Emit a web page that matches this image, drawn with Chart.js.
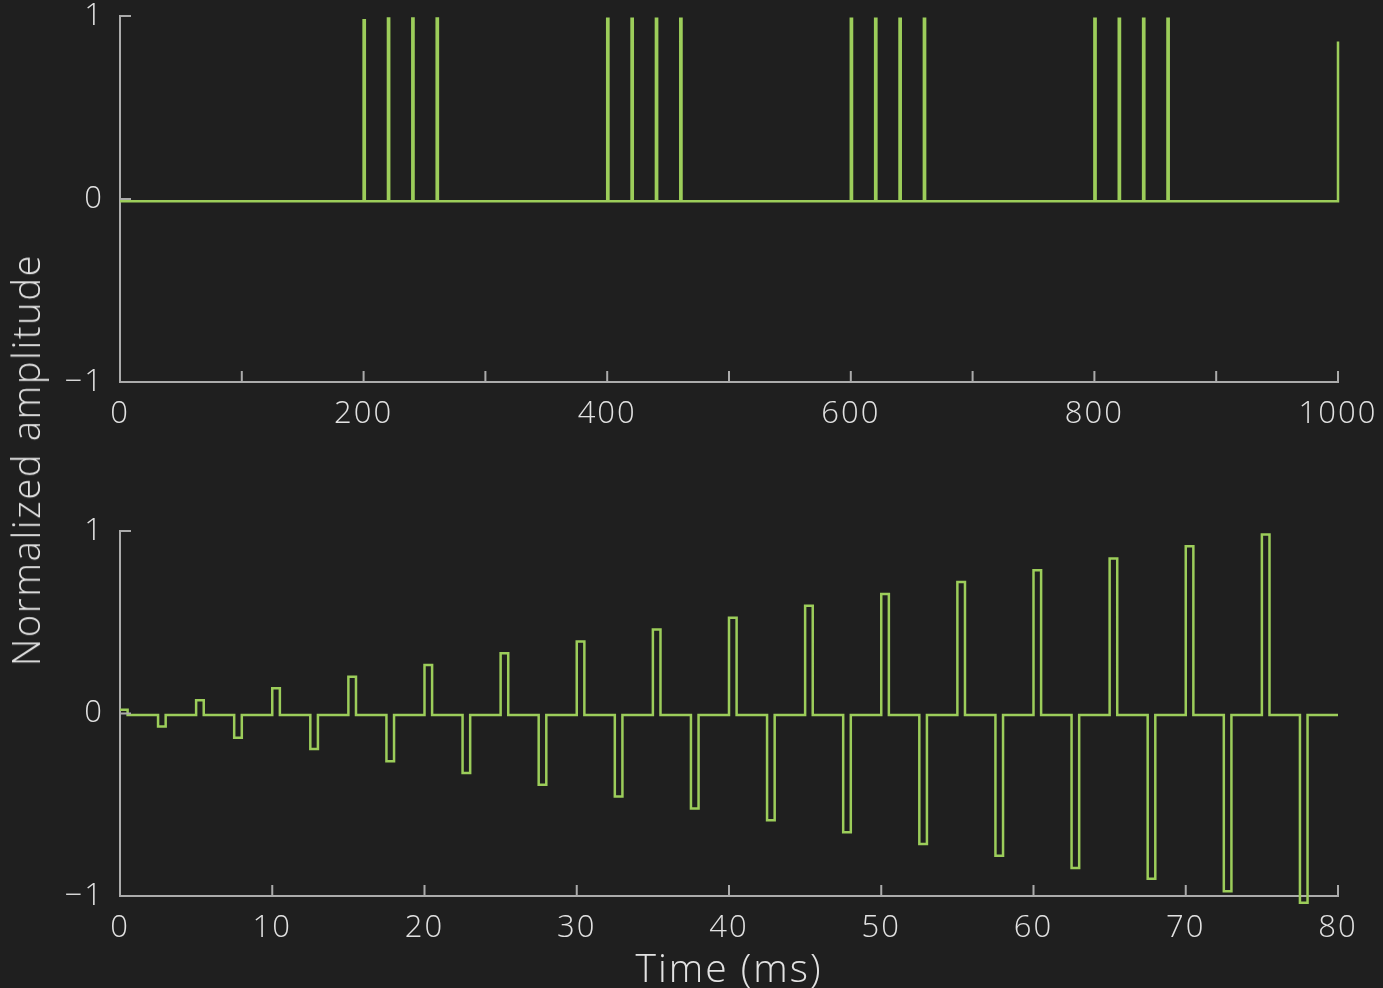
<!DOCTYPE html>
<html>
<head>
<meta charset="utf-8">
<script src="https://cdn.jsdelivr.net/npm/chart.js@4"></script>
<style>
	html, body { margin: 0; padding: 0; background: #1f1f1f; }
	body { width: 1383px; height: 988px; position: relative; overflow: hidden; font-family: 'Open Sans', sans-serif; }
	canvas { position: absolute; left: 0; }
	#top { top: 0; }
	#bottom { top: 480px; }
	.label { position: absolute; color: #e2e2e2; font-weight: 300; white-space: nowrap; }
	#ylabel {
		left: 25px; top: 460px; font-size: 38px; letter-spacing: 1.7px;
		transform: translate(-50%, -50%) rotate(-90deg);
	}
	#xlabel { left: 729px; top: 966px; font-size: 39px; letter-spacing: 2px; transform: translate(-50%, -50%); }
</style>
</head>
<body>
<canvas id="top" width="1383" height="440"></canvas>
<canvas id="bottom" width="1383" height="508"></canvas>
<div id="ylabel" class="label">Normalized amplitude</div>
<div id="xlabel" class="label">Time (ms)</div>
<script>
// top panel: spike train
const topStarts = [200, 220, 240, 260, 400, 420, 440, 460, 600, 620, 640, 660, 800, 820, 840, 860, 1000]
const topHeights = [0.977, 0.987, 0.987, 0.987, 0.985, 0.985, 0.985, 0.985, 0.985, 0.985, 0.985, 0.985, 0.985, 0.985, 0.985, 0.985, 0.86]
const topWidth = 1
const topBase = -0.012
const topXTicks = [0, 100, 200, 300, 400, 500, 600, 700, 800, 900, 1000]

// bottom panel: alternating pulses (ms)
const posStarts = [5, 10, 15, 20, 25, 30, 35, 40, 45, 50, 55, 60, 65, 70, 75]
const posAmps = [0.073, 0.139, 0.202, 0.266, 0.33, 0.395, 0.46, 0.525, 0.59, 0.655, 0.72, 0.785, 0.85, 0.917, 0.981]
const negStarts = [2.5, 7.5, 12.5, 17.5, 22.5, 27.5, 32.5, 37.5, 42.5, 47.5, 52.5, 57.5, 62.5, 67.5, 72.5, 77.5]
const negAmps = [-0.071, -0.133, -0.195, -0.262, -0.326, -0.39, -0.455, -0.52, -0.585, -0.65, -0.715, -0.78, -0.846, -0.906, -0.974, -1.037]
const pulseWidth = 0.5
const bottomBase = -0.008
const bottomEnd = 80
const bottomXTicks = [0, 10, 20, 30, 40, 50, 60, 70, 80]

const yTicks = [-1, 0, 1]

const green = '#9ccd5a'
const axisColor = '#ababab'
const textColor = '#e2e2e2'
const tickFont = { family: 'Open Sans', size: 31, weight: 300 }

const pulsesToPoints = (starts, amps, width, base, end) => {
	let pts = [{ x: 0, y: base }]
	starts.forEach((t, i) => {
		pts.push({ x: t, y: base })
		pts.push({ x: t, y: amps[i] })
		if (t + width <= end) {
			pts.push({ x: t + width, y: amps[i] })
			pts.push({ x: t + width, y: base })
		}
	})
	if (pts[pts.length - 1].x < end) pts.push({ x: end, y: base })
	return pts
}

const bottomPoints = () => {
	// small step right at the start
	let pts = [{ x: 0, y: 0.02 }, { x: 0.5, y: 0.02 }, { x: 0.5, y: bottomBase }]
	let events = []
	posStarts.forEach((t, i) => events.push([t, posAmps[i]]))
	negStarts.forEach((t, i) => events.push([t, negAmps[i]]))
	events.sort((a, b) => a[0] - b[0])
	for (const [t, a] of events) {
		pts.push({ x: t, y: bottomBase })
		pts.push({ x: t, y: a })
		pts.push({ x: t + pulseWidth, y: a })
		pts.push({ x: t + pulseWidth, y: bottomBase })
	}
	pts.push({ x: bottomEnd, y: bottomBase })
	return pts
}

// wider tick labels + inward tick marks, drawn from the chart's own scales
const innerTicks = {
	id: 'innerTicks',
	beforeDraw(chart) {
		chart.ctx.letterSpacing = '2px'
	},
	afterDraw(chart, args, opts) {
		const { ctx, scales: { x, y } } = chart
		ctx.save()
		ctx.strokeStyle = axisColor
		ctx.lineWidth = 2
		ctx.beginPath()
		for (const v of opts.xTicks) {
			const px = x.getPixelForValue(v)
			ctx.moveTo(px, y.bottom)
			ctx.lineTo(px, y.bottom - 11)
		}
		for (const v of yTicks) {
			const py = y.getPixelForValue(v)
			ctx.moveTo(x.left, py)
			ctx.lineTo(x.left + 11, py)
		}
		ctx.stroke()
		ctx.restore()
	}
}

const makeConfig = (points, xMax, step, labelFn, xHeight, pad, xTicks) => ({
	type: 'line',
	data: {
		datasets: [{
			data: points,
			borderColor: green,
			borderWidth: 2.5,
			pointRadius: 0,
			tension: 0,
			fill: false,
			clip: false
		}]
	},
	options: {
		responsive: false,
		animation: false,
		events: [],
		layout: { padding: pad },
		plugins: {
			legend: { display: false },
			tooltip: { enabled: false },
			innerTicks: { xTicks }
		},
		scales: {
			x: {
				type: 'linear',
				min: 0,
				max: xMax,
				grid: { display: false, drawTicks: false },
				border: { display: true, color: axisColor, width: 2 },
				ticks: {
					stepSize: step,
					autoSkip: false,
					maxRotation: 0,
					padding: 14,
					color: textColor,
					font: tickFont,
					callback: labelFn
				},
				afterFit: s => {
					s.height = xHeight
					s.paddingLeft = 0
					s.paddingRight = 0
				}
			},
			y: {
				type: 'linear',
				min: -1,
				max: 1,
				grid: { display: false, drawTicks: false },
				border: { display: true, color: axisColor, width: 2 },
				ticks: {
					stepSize: 1,
					padding: 16,
					color: textColor,
					font: tickFont,
					callback: v => v < 0 ? '\u2212' + Math.abs(v) : v
				},
				afterFit: s => {
					s.width = 120
					s.paddingTop = 0
					s.paddingBottom = 0
				}
			}
		}
	},
	plugins: [innerTicks]
})

const init = () => {
	const topPts = pulsesToPoints(topStarts, topHeights, topWidth, topBase, 1000)
	new Chart(document.getElementById('top'), makeConfig(
		topPts, 1000, 100,
		v => v % 200 === 0 ? v : '',
		58, { top: 16, right: 45, left: 0, bottom: 0 }, topXTicks
	))

	new Chart(document.getElementById('bottom'), makeConfig(
		bottomPoints(), 80, 10,
		v => v,
		92, { top: 51, right: 45, left: 0, bottom: 0 }, bottomXTicks
	))
}

init()
</script>
</body>
</html>
